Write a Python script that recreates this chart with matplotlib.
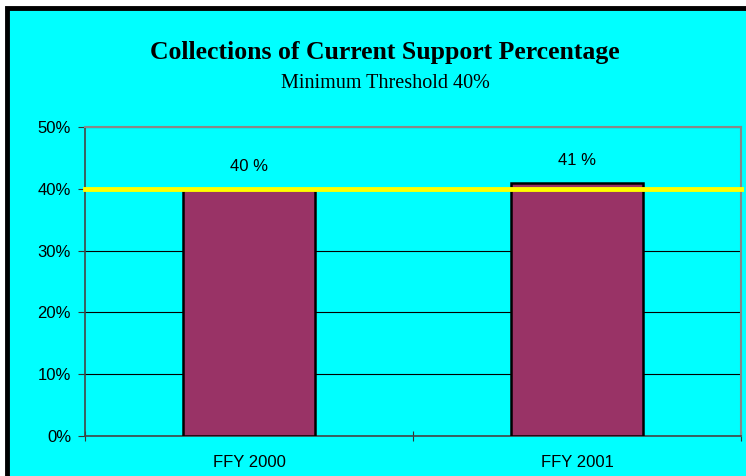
import matplotlib.pyplot as plt
from matplotlib.patches import Rectangle
from matplotlib.ticker import FuncFormatter

categories = ["FFY 2000", "FFY 2001"]
percent = [40, 41]
threshold = 40
y_ticks = [0, 10, 20, 30, 40, 50]

W, H = 746, 476
fig = plt.figure(figsize=(W / 100, H / 100), dpi=100, facecolor="white")

# cyan panel with a heavy black border (right/bottom run off the image)
fig.patches.append(Rectangle((7 / W, -0.2), 1.3, (H - 8) / H + 0.2,
                             transform=fig.transFigure, facecolor="#00FFFF",
                             edgecolor="black", linewidth=3.5, zorder=-5))

fig.text(385 / W, (H - 53) / H, "Collections of Current Support Percentage",
         ha="center", va="center", fontsize=18.5, fontweight="bold",
         family="Liberation Serif")
fig.text(385 / W, (H - 83) / H, "Minimum Threshold 40%", ha="center",
         va="center", fontsize=14.5, family="Liberation Serif")

ax = fig.add_axes([85 / W, (H - 436) / H, 656 / W, 309 / H])
ax.set_facecolor("none")
ax.set_zorder(2)

x = list(range(len(categories)))
bars = ax.bar(x, percent, width=0.4, color="#993366", edgecolor="black",
              linewidth=1.8, zorder=3)
for xi, v in zip(x, percent):
    ax.text(xi, v + 3.6, f"{v} %", ha="center", va="center", fontsize=12,
            family="Liberation Sans", zorder=5)

ax.axhline(threshold, color="#FFFF00", linewidth=3.5, zorder=4,
           clip_on=False)

ax.set_xlim(-0.5, len(categories) - 0.5)
ax.set_ylim(0, 50)
ax.set_yticks(y_ticks)
ax.yaxis.set_major_formatter(FuncFormatter(lambda v, p: f"{v:.0f}%"))
ax.yaxis.grid(True, color="black", linewidth=0.8, zorder=1)
ax.set_axisbelow(True)

# category ticks sit on the boundaries, labels at the centres
ax.set_xticks([-0.5, 0.5, 1.5])
ax.set_xticklabels([])
ax.set_xticks(x, minor=True)
ax.set_xticklabels(categories, minor=True)
ax.tick_params(axis="x", which="minor", length=0, pad=14)
ax.tick_params(axis="x", which="major", length=7, direction="inout",
               color="#333333")
ax.tick_params(axis="y", length=5, direction="out", color="#333333", pad=5)
for lbl in ax.get_yticklabels() + ax.get_xticklabels(minor=True):
    lbl.set_fontsize(12)
    lbl.set_family("Liberation Sans")

for side in ["left", "bottom"]:
    ax.spines[side].set_color("#444444")
    ax.spines[side].set_linewidth(1.2)
for side in ["top", "right"]:
    ax.spines[side].set_color("#888888")
    ax.spines[side].set_linewidth(1.5)

fig.savefig("out.png", dpi=100, facecolor="white")
